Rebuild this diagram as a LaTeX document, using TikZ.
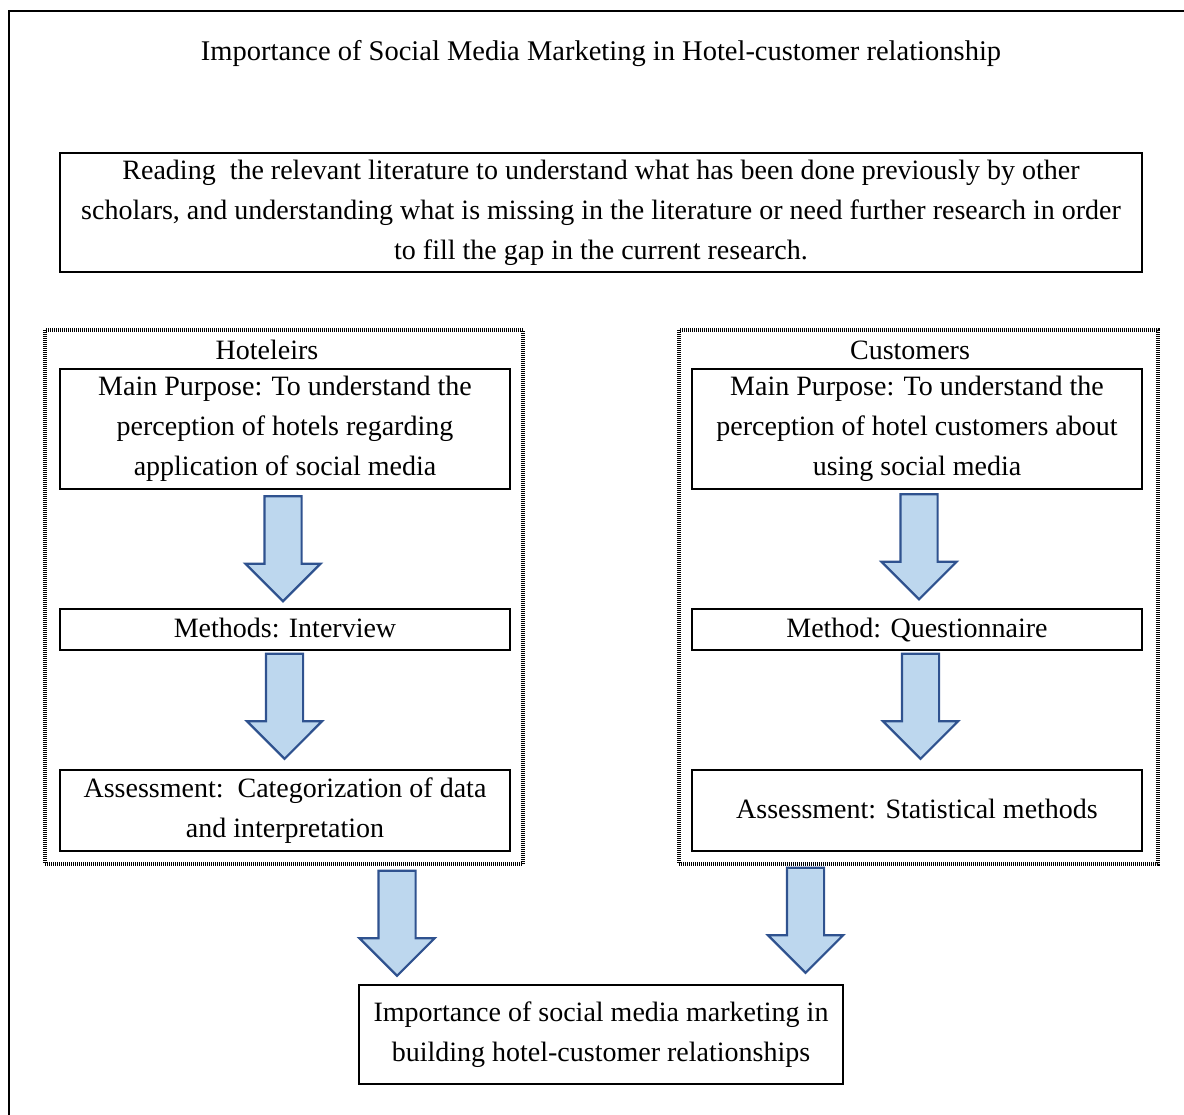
\documentclass[tikz,border=0pt]{standalone}
\usepackage{fontspec}
\setmainfont{Liberation Serif}
\usetikzlibrary{shapes.arrows}
\definecolor{arrowfill}{HTML}{BDD7EE}
\definecolor{arrowline}{HTML}{2F528F}

\begin{document}
\begin{tikzpicture}[x=1pt,y=-1pt,
    box/.style={draw, line width=1.8pt, align=center, inner sep=0pt,
        font=\fontsize{28}{40}\selectfont},
    group/.style={draw, line width=3.5pt, dash pattern=on 1pt off 1pt,
        inner sep=0pt},
    downarrow/.style={single arrow, draw=arrowline, fill=arrowfill, line width=2.2pt,
        minimum height=105pt, minimum width=73pt, single arrow head extend=19pt,
        single arrow tip angle=90, inner xsep=0pt, inner ysep=17.5pt, rotate=-90}]
    \useasboundingbox (0,0) rectangle (1184,1115);
    % outer frame
    \draw[line width=2.2pt] (9,1115) -- (9,11) -- (1184,11);

    \node (title) at (601,54) {\fontsize{28.5}{34}\selectfont Importance of Social Media Marketing in Hotel-customer relationship};

    \node[box, minimum width=1082pt, minimum height=119pt] (lit) at (601,212.5)
        {Reading\ \ the relevant literature to understand what has been done previously by other\\
         scholars, and understanding what is missing in the literature or need further research in order\\
         to fill the gap in the current research.};

    % two groups
    \node[group, minimum width=478pt, minimum height=534pt] (hframe) at (284,597) {};
    \node[group, minimum width=479pt, minimum height=534pt] (cframe) at (918.5,597) {};
    \node[font=\fontsize{28}{40}\selectfont] (hotel) at (267,350) {Hoteleirs};
    \node[font=\fontsize{28}{40}\selectfont] (cust) at (910,350) {Customers};

    \node[box, minimum width=450pt, minimum height=120pt] (hpurpose) at (285,429)
        {Main Purpose: To understand the\\ perception of hotels regarding\\ application of social media};
    \node[box, minimum width=450pt, minimum height=41pt] (hmethod) at (285,629.5)
        {\strut Methods: Interview};
    \node[box, minimum width=450pt, minimum height=81pt] (hassess) at (285,810.5)
        {Assessment:\ \ Categorization of data\\ and interpretation};

    \node[box, minimum width=450pt, minimum height=120pt] (cpurpose) at (917,429)
        {Main Purpose: To understand the\\ perception of hotel customers about\\ using social media};
    \node[box, minimum width=450pt, minimum height=41pt] (cmethod) at (917,629.5)
        {\strut Method: Questionnaire};
    \node[box, minimum width=450pt, minimum height=81pt] (cassess) at (917,810.5)
        {\strut Assessment: Statistical methods};

    \node[box, minimum width=484pt, minimum height=99pt] (result) at (601,1034.5)
        {Importance of social media marketing in\\ building hotel-customer relationships};

    % block arrows
    \node[downarrow] (harrow1) at (283,539.5) {};
    \node[downarrow] (harrow2) at (284.5,697) {};
    \node[downarrow] (carrow1) at (919,537.5) {};
    \node[downarrow] (carrow2) at (920.5,697) {};
    \node[downarrow] (harrow3) at (397,914) {};
    \node[downarrow] (carrow3) at (805.5,911) {};
\end{tikzpicture}
\end{document}
